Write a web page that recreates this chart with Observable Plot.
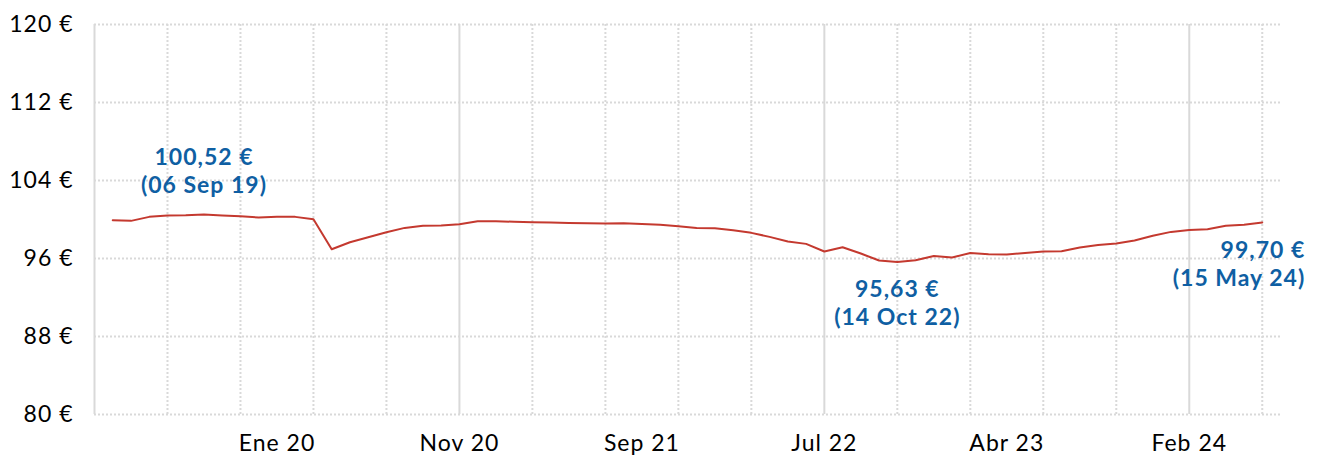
<!DOCTYPE html>
<html>
<head>
<meta charset="utf-8">
<script src="https://cdn.jsdelivr.net/npm/d3@7"></script>
<script src="https://cdn.jsdelivr.net/npm/@observablehq/plot@0.6"></script>
<style>
  html, body { margin: 0; padding: 0; background: #fff; }
  #chart svg { display: block; }
  #chart svg text { letter-spacing: 1px; }
</style>
</head>
<body>
<div id="chart"></div>
<script>
// Price series (one point per observation, category index 0..63)
const values = [
  99.93, 99.86, 100.27, 100.41, 100.44, 100.52, 100.41, 100.34, 100.20, 100.27, 100.27, 100.03,
  96.95, 97.67, 98.18, 98.70, 99.14, 99.35, 99.38, 99.52, 99.83, 99.83, 99.76,
  99.72, 99.69, 99.65, 99.62, 99.59, 99.62, 99.55, 99.45, 99.31, 99.14, 99.10,
  98.90, 98.63, 98.22, 97.74, 97.50, 96.72, 97.16, 96.51, 95.79, 95.63, 95.83, 96.26,
  96.10, 96.57, 96.44, 96.41, 96.57, 96.72, 96.75, 97.13, 97.39, 97.54, 97.85, 98.34,
  98.73, 98.93, 99.00, 99.35, 99.45, 99.70
];
const xTickIndex = [9, 19, 29, 39, 49, 59];
const xTickLabels = ["Ene 20", "Nov 20", "Sep 21", "Jul 22", "Abr 23", "Feb 24"];
const yTicks = [80, 88, 96, 104, 112, 120];
const annIndex = [5, 43, 63];
const annDates = ["06 Sep 19", "14 Oct 22", "15 May 24"];

const data = values.map((v, i) => ({i, v}));
const fmt = v => v.toFixed(2).replace(".", ",") + " €";
const ann = annIndex.map((i, k) => ({i, v: values[i], label: `${fmt(values[i])}\n(${annDates[k]})`}));

const gridDotted = d3.range(3, 64, 4).filter(d => (d + 1) % 20 !== 0);
const gridSolid = d3.range(19, 64, 20);

const blue = "#0f5fa3";
const red = "#c4392f";
const grid = "#d9d9d9";

const annStyle = {x: "i", y: "v", text: "label", fill: blue, fontWeight: "bold", fontSize: 23, lineHeight: 1.22, lineAnchor: "bottom"};

const chart = Plot.plot({
  width: 1321,
  height: 455,
  marginLeft: 94,
  marginRight: 41,
  marginTop: 24,
  marginBottom: 41,
  style: {fontFamily: "Lato, 'Noto Sans', sans-serif", fontSize: "23px", color: "#000", background: "#fff"},
  x: {domain: [-1, 64]},
  y: {domain: [80, 120]},
  marks: [
    Plot.ruleY(yTicks, {stroke: grid, strokeWidth: 2, strokeDasharray: "2,2"}),
    Plot.ruleX(gridDotted, {stroke: grid, strokeWidth: 2, strokeDasharray: "2,2"}),
    Plot.ruleX(gridSolid, {stroke: grid, strokeWidth: 2}),
    Plot.ruleX([-1], {stroke: grid, strokeWidth: 2}),
    Plot.line(data, {x: "i", y: "v", stroke: red, strokeWidth: 2}),
    Plot.axisY({ticks: yTicks, label: null, tickSize: 0, tickPadding: 21, tickFormat: d => `${d} €`, fontSize: 23, fill: "#000"}),
    Plot.axisX({ticks: xTickIndex, label: null, tickSize: 0, tickPadding: 20, tickFormat: d => xTickLabels[xTickIndex.indexOf(d)], fontSize: 23, fill: "#000"}),
    Plot.text([ann[0]], {...annStyle, textAnchor: "middle", dy: -21}),
    Plot.text([ann[1]], {...annStyle, textAnchor: "middle", dy: 63}),
    Plot.text([ann[2]], {...annStyle, textAnchor: "end", dx: 43, dy: 64})
  ]
});
document.getElementById("chart").append(chart);
</script>
</body>
</html>
